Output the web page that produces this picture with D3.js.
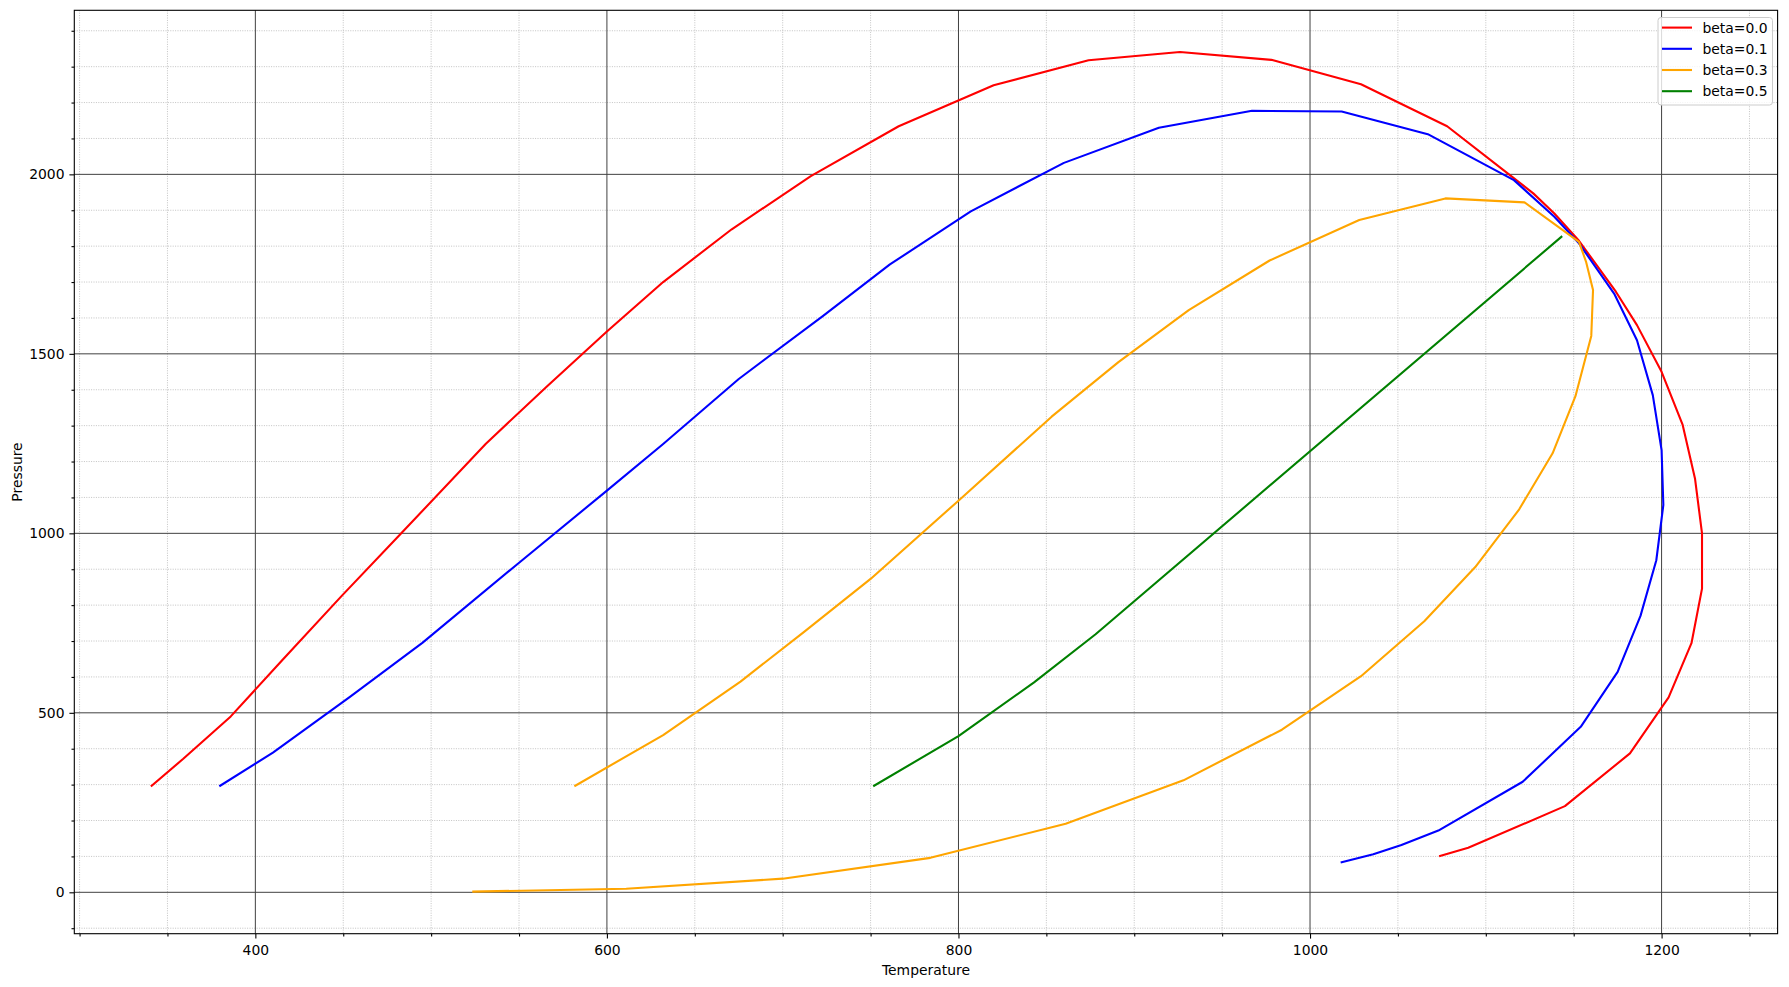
<!DOCTYPE html>
<html>
<head>
<meta charset="utf-8">
<script src="https://cdn.jsdelivr.net/npm/d3@7"></script>
<style>
  html, body { margin: 0; padding: 0; background: #fff; }
  svg { display: block; }
  text { font-family: "DejaVu Sans", sans-serif; }
</style>
</head>
<body>
<div id="chart"></div>
<script>
// ---------------- data ----------------
const seriesLabels = ["beta=0.0", "beta=0.1", "beta=0.3", "beta=0.5"];
const seriesColors = ["#ff0000", "#0000ff", "#ffa500", "#008000"];

const tempBeta00 = [341, 359, 386, 415, 449, 483, 531, 566, 600, 632, 671, 716, 766, 820, 874, 926, 978, 1029, 1078, 1115, 1127, 1139, 1153, 1174, 1186, 1200, 1212, 1219, 1223, 1223, 1217, 1204, 1182, 1145, 1090, 1074];
const presBeta00 = [297, 372, 490, 645, 825, 1000, 1249, 1410, 1562, 1700, 1847, 1995, 2134, 2248, 2318, 2341, 2319, 2251, 2134, 1993, 1947, 1891, 1815, 1673, 1580, 1450, 1302, 1153, 1000, 846, 694, 543, 387, 240, 124, 101];

const tempBeta01 = [380, 410, 454, 495, 549, 600, 632, 675, 723, 761, 807, 860, 914, 967, 1018, 1067, 1116, 1139, 1153, 1173, 1186, 1195, 1200, 1201, 1197, 1188, 1175, 1154, 1121, 1073, 1052, 1036, 1018];
const presBeta01 = [297, 389, 545, 695, 914, 1119, 1249, 1430, 1606, 1749, 1897, 2032, 2130, 2177, 2175, 2112, 1984, 1882, 1808, 1668, 1538, 1385, 1232, 1079, 925, 770, 614, 461, 308, 172, 132, 106, 84];

const tempBeta03 = [582, 632, 676, 712, 750, 800, 853, 891, 931, 977, 1028, 1077, 1122, 1153, 1157, 1161, 1160, 1151, 1138, 1119, 1094, 1065, 1029, 984, 928, 861, 784, 700, 611, 524];
const presBeta03 = [297, 438, 587, 725, 873, 1091, 1325, 1477, 1622, 1760, 1873, 1933, 1922, 1812, 1757, 1678, 1550, 1382, 1223, 1067, 906, 755, 602, 453, 312, 191, 96, 38, 10, 2];

const tempBeta05 = [752, 800, 843, 878, 1143];
const presBeta05 = [297, 435, 585, 719, 1826];

const xMajorTicks = [400, 600, 800, 1000, 1200];
const yMajorTicks = [0, 500, 1000, 1500, 2000];
const xLabel = "Temperature";
const yLabel = "Pressure";

const seriesT = [tempBeta00, tempBeta01, tempBeta03, tempBeta05];
const seriesP = [presBeta00, presBeta01, presBeta03, presBeta05];

// ---------------- layout ----------------
const W = 1789, H = 987;
const plot = { left: 74.3, right: 1777.6, top: 10.3, bottom: 933.7 };
const FS = 13.9;

const svg = d3.select("#chart").append("svg")
  .attr("width", W).attr("height", H)
  .style("background", "#fff");

const x = d3.scaleLinear().domain([297, 1266]).range([plot.left, plot.right]);
const y = d3.scaleLinear().domain([-115.3, 2457]).range([plot.bottom, plot.top]);

const xMinor = d3.range(300, 1266, 50).filter(v => !xMajorTicks.includes(v));
const yMinor = d3.range(-100, 2457, 100).filter(v => !yMajorTicks.includes(v));

const pw = plot.right - plot.left, ph = plot.bottom - plot.top;

svg.append("clipPath").attr("id", "clip").append("rect")
  .attr("x", plot.left).attr("y", plot.top).attr("width", pw).attr("height", ph);

// minor grid
const grid = svg.append("g");
grid.selectAll(".vminor").data(xMinor).join("line")
  .attr("x1", d => x(d)).attr("x2", d => x(d))
  .attr("y1", plot.top).attr("y2", plot.bottom)
  .attr("stroke", "#b4b4b4").attr("stroke-width", 0.8).attr("stroke-dasharray", "1,1.4");
grid.selectAll(".hminor").data(yMinor).join("line")
  .attr("y1", d => y(d)).attr("y2", d => y(d))
  .attr("x1", plot.left).attr("x2", plot.right)
  .attr("stroke", "#b4b4b4").attr("stroke-width", 0.8).attr("stroke-dasharray", "1,1.4");
// major grid
grid.selectAll(".vmajor").data(xMajorTicks).join("line")
  .attr("x1", d => x(d)).attr("x2", d => x(d))
  .attr("y1", plot.top).attr("y2", plot.bottom)
  .attr("stroke", "#404040").attr("stroke-width", 1);
grid.selectAll(".hmajor").data(yMajorTicks).join("line")
  .attr("y1", d => y(d)).attr("y2", d => y(d))
  .attr("x1", plot.left).attr("x2", plot.right)
  .attr("stroke", "#404040").attr("stroke-width", 1);

// lines
const line = d3.line().x(d => x(d[0])).y(d => y(d[1]));
const lines = svg.append("g").attr("clip-path", "url(#clip)");
seriesT.forEach((ts, i) => {
  const pts = ts.map((t, k) => [t, seriesP[i][k]]);
  lines.append("path").datum(pts)
    .attr("d", line)
    .attr("fill", "none")
    .attr("stroke", seriesColors[i])
    .attr("stroke-width", 2.1)
    .attr("stroke-linejoin", "round")
    .attr("stroke-linecap", "square");
});

// axes
const xAxis = d3.axisBottom(x).tickValues(xMajorTicks).tickSize(4.9).tickPadding(6.5).tickFormat(d3.format("d"));
const xAxisMinor = d3.axisBottom(x).tickValues(xMinor).tickSize(2.8).tickFormat("");
const yAxis = d3.axisLeft(y).tickValues(yMajorTicks).tickSize(4.9).tickPadding(4.9).tickFormat(d3.format("d"));
const yAxisMinor = d3.axisLeft(y).tickValues(yMinor).tickSize(2.8).tickFormat("");

function styleAxis(g) {
  g.select(".domain").remove();
  g.selectAll("line").attr("stroke", "#000").attr("stroke-width", 1.1);
  g.selectAll("text").attr("font-family", "DejaVu Sans").attr("font-size", FS).attr("fill", "#000");
}
svg.append("g").attr("transform", `translate(0,${plot.bottom})`).call(xAxis).call(styleAxis);
svg.append("g").attr("transform", `translate(0,${plot.bottom})`).call(xAxisMinor).call(styleAxis);
svg.append("g").attr("transform", `translate(${plot.left},0)`).call(yAxis).call(styleAxis);
svg.append("g").attr("transform", `translate(${plot.left},0)`).call(yAxisMinor).call(styleAxis);

// spines
svg.append("rect")
  .attr("x", plot.left).attr("y", plot.top).attr("width", pw).attr("height", ph)
  .attr("fill", "none").attr("stroke", "#000").attr("stroke-width", 1.1);

// axis labels
svg.append("text").attr("x", (plot.left + plot.right) / 2).attr("y", 975)
  .attr("text-anchor", "middle").attr("font-size", FS).attr("fill", "#000").text(xLabel);
svg.append("text")
  .attr("transform", `translate(22,${(plot.top + plot.bottom) / 2}) rotate(-90)`)
  .attr("text-anchor", "middle").attr("font-size", FS).attr("fill", "#000").text(yLabel);

// legend
const lg = svg.append("g");
lg.append("rect").attr("x", 1658).attr("y", 17.5).attr("width", 114.5).attr("height", 87.5)
  .attr("rx", 3).attr("ry", 3)
  .attr("fill", "#fff").attr("fill-opacity", 0.8)
  .attr("stroke", "#cccccc").attr("stroke-width", 1);
seriesLabels.forEach((lab, i) => {
  const cy = 27.6 + i * 21.2;
  lg.append("line").attr("x1", 1662).attr("x2", 1692).attr("y1", cy).attr("y2", cy)
    .attr("stroke", seriesColors[i]).attr("stroke-width", 2.1);
  lg.append("text").attr("x", 1702.5).attr("y", cy + 5)
    .attr("font-size", FS).attr("fill", "#000").text(lab);
});
</script>
</body>
</html>
